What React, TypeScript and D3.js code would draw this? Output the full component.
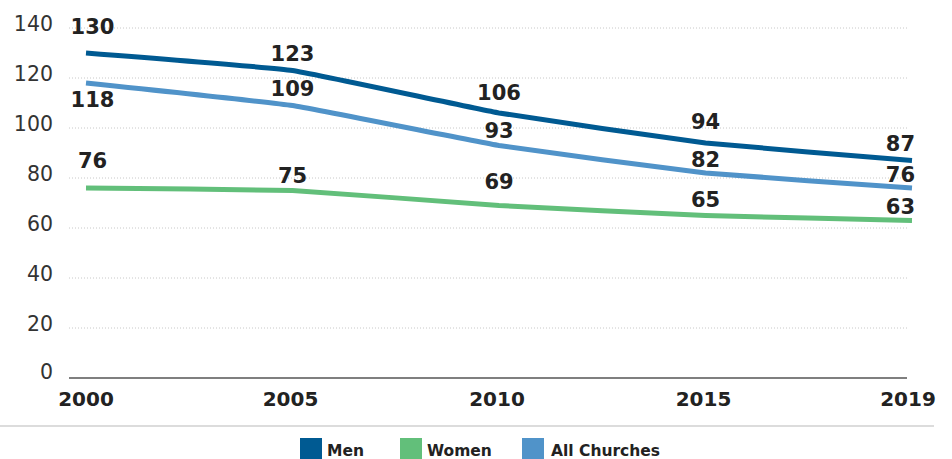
import React from "react";
import * as d3 from "d3";

const years = ["2000", "2005", "2010", "2015", "2019"];
const men = [130, 123, 106, 94, 87];
const women = [76, 75, 69, 65, 63];
const allChurches = [118, 109, 93, 82, 76];
const yTicks = [0, 20, 40, 60, 80, 100, 120, 140];

const seriesNames = ["Men", "Women", "All Churches"];
const seriesColors = ["#005a92", "#62bf7a", "#5093c9"];

// label baseline offsets (px, relative to point)
const labelDy: Record<string, number[]> = {
  Men: [-19, -10, -13, -14, -10],
  Women: [-20, -8, -17, -9, -7],
  "All Churches": [24, -10, -8, -6, -6],
};

const W = 952;
const H = 459;

export default function App() {
  const x = d3.scalePoint<string>().domain(years).range([86, 912]);
  const y = d3.scaleLinear().domain([0, 140]).range([378, 28]);
  const data = [men, women, allChurches];
  const line = d3
    .line<number>()
    .x((_, i) => x(years[i]) as number)
    .y((d) => y(d))
    .curve(d3.curveCardinal.tension(0.72));

  const font = "'DejaVu Sans', Verdana, sans-serif";
  const order = [2, 1, 0];

  const legendItems = [
    { sq: 300, tx: 327 },
    { sq: 400, tx: 427 },
    { sq: 522, tx: 551 },
  ];

  return (
    <svg
      width={W}
      height={H}
      style={{ position: "absolute", left: 0, top: 0, background: "#fff" }}
      fontFamily={font}
    >
      {yTicks.map((t) => (
        <g key={t}>
          {t !== 0 && (
            <line
              x1={69}
              x2={907}
              y1={y(t)}
              y2={y(t)}
              stroke="#c8c8c8"
              strokeWidth={1}
              strokeDasharray="1,2"
            />
          )}
          <text
            x={53}
            y={y(t) + (t === 0 ? 1 : 3)}
            textAnchor="end"
            fontSize={20.5}
            fill="#333"
          >
            {t}
          </text>
        </g>
      ))}
      <line x1={69} x2={907} y1={y(0)} y2={y(0)} stroke="#555" strokeWidth={1.6} />

      {years.map((yr, i) => (
        <text
          key={yr}
          x={(x(yr) as number) + (i === years.length - 1 ? -4 : i === 0 ? 0 : -2)}
          y={406}
          textAnchor="middle"
          fontSize={20}
          fontWeight="bold"
          fill="#222"
        >
          {yr}
        </text>
      ))}

      {order.map((s) => (
        <path
          key={seriesNames[s]}
          d={line(data[s]) || ""}
          fill="none"
          stroke={seriesColors[s]}
          strokeWidth={5}
        />
      ))}

      {order.map((s) =>
        data[s].map((v, i) => {
          const last = i === years.length - 1;
          const first = i === 0;
          const px = x(years[i]) as number;
          return (
            <text
              key={seriesNames[s] + i}
              x={first ? px + 6.5 : last ? px + 3 : px}
              y={y(v) + labelDy[seriesNames[s]][i]}
              textAnchor={last ? "end" : "middle"}
              fontSize={21}
              fontWeight="bold"
              fill="#222"
            >
              {v}
            </text>
          );
        })
      )}

      <line x1={0} x2={934} y1={426} y2={426} stroke="#d0d0d0" strokeWidth={1.5} />

      {seriesNames.map((n, i) => (
        <g key={n}>
          <rect x={legendItems[i].sq} y={438} width={22} height={21} fill={seriesColors[i]} />
          <text
            x={legendItems[i].tx}
            y={456}
            fontSize={15.5}
            fontWeight="bold"
            fill="#222"
          >
            {n}
          </text>
        </g>
      ))}
    </svg>
  );
}
